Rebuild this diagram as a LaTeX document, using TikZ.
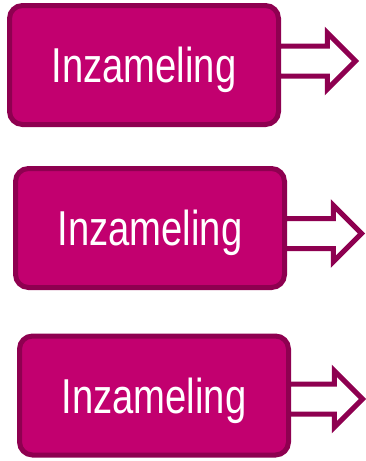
\documentclass[tikz,border=0pt]{standalone}
\usepackage{fontspec}
\newfontfamily\blokfont[FakeStretch=0.78]{Liberation Sans}
\usetikzlibrary{shapes.arrows}
\definecolor{blokrood}{RGB}{194,0,111}
\definecolor{randrood}{RGB}{142,0,80}
\begin{document}
\begin{tikzpicture}[x=1pt,y=-1pt]
				\useasboundingbox (0,0) rectangle (366,461);
				\tikzstyle{blok}=[draw=randrood,fill=blokrood,line width=5pt,
				rounded corners=13pt,minimum width=269pt,minimum height=119pt,
				text=white,text depth=0pt,font=\blokfont\fontsize{49}{55}\selectfont,outer sep=0pt]
				\tikzstyle{pijl}=[single arrow,draw=randrood,fill=white,line width=5pt,
				inner xsep=0pt,inner ysep=12.5pt,single arrow head extend=13.25pt,
				minimum height=77pt,outer sep=0pt,anchor=tail]
				\node[blok] (blok1) at (144,65) {Inzameling};
				\node[blok] (blok2) at (150,228) {Inzameling};
				\node[blok] (blok3) at (154,395.5) {Inzameling};
				\node[pijl] (pijl1) at ([yshift=4pt]blok1.east) {};
				\node[pijl] (pijl2) at ([yshift=-5.5pt]blok2.east) {};
				\node[pijl,minimum height=74pt] (pijl3) at ([yshift=-3.5pt]blok3.east) {};
\end{tikzpicture}
\end{document}
